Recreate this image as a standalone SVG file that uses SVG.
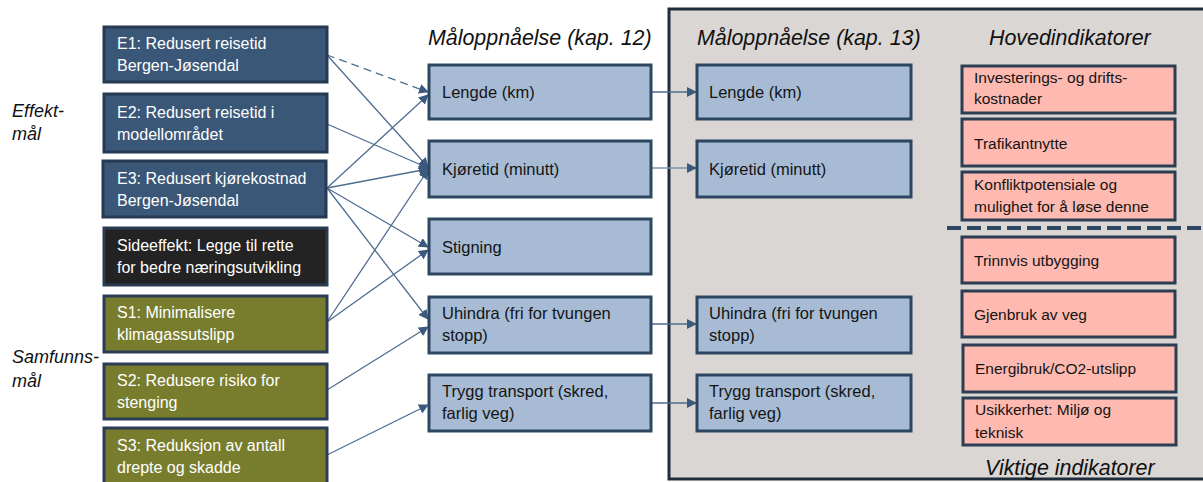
<svg xmlns="http://www.w3.org/2000/svg" width="1203" height="482" viewBox="0 0 1203 482">
<defs>
<style>
text{font-family:"Liberation Sans",Arial,sans-serif}
.e{fill:#3B5778;stroke:#263B53;stroke-width:3}
.sd{fill:#232323;stroke:#2B3C52;stroke-width:3}
.s{fill:#787D2E;stroke:#2A3D54;stroke-width:3}
.m{fill:#A7BCD4;stroke:#2D4762;stroke-width:3}
.p{fill:#FEB9B0;stroke:#2C3E53;stroke-width:3}
.wt{fill:#FFFFFF;font-size:16px}
.bt{fill:#141414;font-size:16.5px}
.pt{fill:#141414;font-size:15.5px}
.it{fill:#111111;font-style:italic;font-size:21.4px}
.lb{fill:#111111;font-style:italic;font-size:18px}
.c{stroke:#4E6D90;stroke-width:1.3;fill:none;marker-end:url(#ah)}
.c2{stroke:#7F95AD;stroke-width:1.5;fill:none;marker-end:url(#ah)}
</style>
<marker id="ah" viewBox="0 0 10 10" refX="9" refY="5" markerWidth="10" markerHeight="10" markerUnits="userSpaceOnUse" orient="auto">
<path d="M0,0 L10,5 L0,10 z" fill="#3C5A7D"/>
</marker>
</defs>
<rect width="1203" height="482" fill="#FFFFFF"/>

<g id="panel">
<rect x="669" y="9" width="560" height="470" fill="#DAD6D3" stroke="#1E2C3C" stroke-width="3"/>
</g>

<g id="labels">
<text class="lb" x="12" y="117">Effekt-</text>
<text class="lb" x="12" y="140">mål</text>
<text class="lb" x="12" y="363">Samfunns-</text>
<text class="lb" x="12" y="387">mål</text>
<text class="it" x="428" y="45">Måloppnåelse (kap. 12)</text>
<text class="it" x="697" y="45">Måloppnåelse (kap. 13)</text>
<text class="it" x="989" y="45" font-size="20px">Hovedindikatorer</text>
<text class="it" x="985" y="475" font-size="17.5px">Viktige indikatorer</text>
</g>

<g id="connectors">
<line x1="327" y1="55" x2="428" y2="92" class="c" stroke-dasharray="8 5"/>
<line x1="327" y1="55" x2="428" y2="167" class="c"/>
<line x1="327" y1="124" x2="428" y2="168" class="c"/>
<line x1="327" y1="188" x2="428" y2="95" class="c"/>
<line x1="327" y1="188" x2="428" y2="169" class="c"/>
<line x1="327" y1="188" x2="428" y2="247" class="c"/>
<line x1="327" y1="188" x2="428" y2="319" class="c"/>
<line x1="327" y1="322" x2="428" y2="170" class="c"/>
<line x1="327" y1="322" x2="428" y2="250" class="c"/>
<line x1="327" y1="390" x2="428" y2="327" class="c"/>
<line x1="327" y1="455" x2="428" y2="405" class="c"/>
<line x1="651" y1="92" x2="696" y2="92" class="c"/>
<line x1="651" y1="168" x2="696" y2="168" class="c2"/>
<line x1="651" y1="324" x2="696" y2="324" class="c"/>
<line x1="651" y1="403" x2="696" y2="403" class="c"/>
<line x1="947" y1="228" x2="1203" y2="228" stroke="#2E4864" stroke-width="4" stroke-dasharray="14 6"/>
</g>

<g id="E1"><rect class="e" x="104" y="27" width="223" height="55"/>
<text class="wt" x="117" y="49">E1: Redusert reisetid</text><text class="wt" x="117" y="71">Bergen-Jøsendal</text></g>
<g id="E2"><rect class="e" x="104" y="94" width="223" height="58"/>
<text class="wt" x="117" y="118">E2: Redusert reisetid i</text><text class="wt" x="117" y="140">modellområdet</text></g>
<g id="E3"><rect class="e" x="103" y="161" width="223" height="56"/>
<text class="wt" x="117" y="184">E3: Redusert kjørekostnad</text><text class="wt" x="117" y="206">Bergen-Jøsendal</text></g>
<g id="Side"><rect class="sd" x="104" y="228" width="223" height="57"/>
<text class="wt" x="117" y="251">Sideeffekt: Legge til rette</text><text class="wt" x="117" y="273">for bedre næringsutvikling</text></g>
<g id="S1"><rect class="s" x="104" y="296" width="223" height="56"/>
<text class="wt" x="117" y="318">S1: Minimalisere</text><text class="wt" x="117" y="340">klimagassutslipp</text></g>
<g id="S2"><rect class="s" x="104" y="364" width="223" height="55"/>
<text class="wt" x="117" y="386">S2: Redusere risiko for</text><text class="wt" x="117" y="408">stenging</text></g>
<g id="S3"><rect class="s" x="104" y="428" width="223" height="57"/>
<text class="wt" x="117" y="451">S3: Reduksjon av antall</text><text class="wt" x="117" y="473">drepte og skadde</text></g>

<g id="M12a"><rect class="m" x="429" y="65" width="222" height="54"/><text class="bt" x="442" y="98">Lengde (km)</text></g>
<g id="M12b"><rect class="m" x="429" y="141" width="222" height="56"/><text class="bt" x="442" y="175">Kjøretid (minutt)</text></g>
<g id="M12c"><rect class="m" x="429" y="219" width="222" height="55"/><text class="bt" x="442" y="253">Stigning</text></g>
<g id="M12d"><rect class="m" x="429" y="297" width="222" height="56"/><text class="bt" x="442" y="319">Uhindra (fri for tvungen</text><text class="bt" x="442" y="341">stopp)</text></g>
<g id="M12e"><rect class="m" x="429" y="375" width="222" height="56"/><text class="bt" x="442" y="397">Trygg transport (skred,</text><text class="bt" x="442" y="419">farlig veg)</text></g>

<g id="M13a"><rect class="m" x="697" y="65" width="214" height="54"/><text class="bt" x="709" y="98">Lengde (km)</text></g>
<g id="M13b"><rect class="m" x="697" y="141" width="214" height="56"/><text class="bt" x="709" y="175">Kjøretid (minutt)</text></g>
<g id="M13d"><rect class="m" x="697" y="297" width="214" height="56"/><text class="bt" x="709" y="319">Uhindra (fri for tvungen</text><text class="bt" x="709" y="341">stopp)</text></g>
<g id="M13e"><rect class="m" x="697" y="375" width="214" height="56"/><text class="bt" x="709" y="397">Trygg transport (skred,</text><text class="bt" x="709" y="419">farlig veg)</text></g>

<g id="P1"><rect class="p" x="962" y="66" width="213" height="47"/><text class="pt" x="974" y="83">Investerings- og drifts-</text><text class="pt" x="974" y="104">kostnader</text></g>
<g id="P2"><rect class="p" x="962" y="119" width="213" height="47"/><text class="pt" x="974" y="149">Trafikantnytte</text></g>
<g id="P3"><rect class="p" x="962" y="172" width="213" height="48"/><text class="pt" x="974" y="190">Konfliktpotensiale og</text><text class="pt" x="974" y="212">mulighet for å løse denne</text></g>
<g id="P4"><rect class="p" x="962" y="237" width="213" height="46"/><text class="pt" x="974" y="266">Trinnvis utbygging</text></g>
<g id="P5"><rect class="p" x="962" y="291" width="213" height="46"/><text class="pt" x="974" y="320">Gjenbruk av veg</text></g>
<g id="P6"><rect class="p" x="963" y="345" width="213" height="47"/><text class="pt" x="975" y="374">Energibruk/CO2-utslipp</text></g>
<g id="P7"><rect class="p" x="963" y="398" width="213" height="47"/><text class="pt" x="975" y="415">Usikkerhet: Miljø og</text><text class="pt" x="975" y="438">teknisk</text></g>
</svg>
